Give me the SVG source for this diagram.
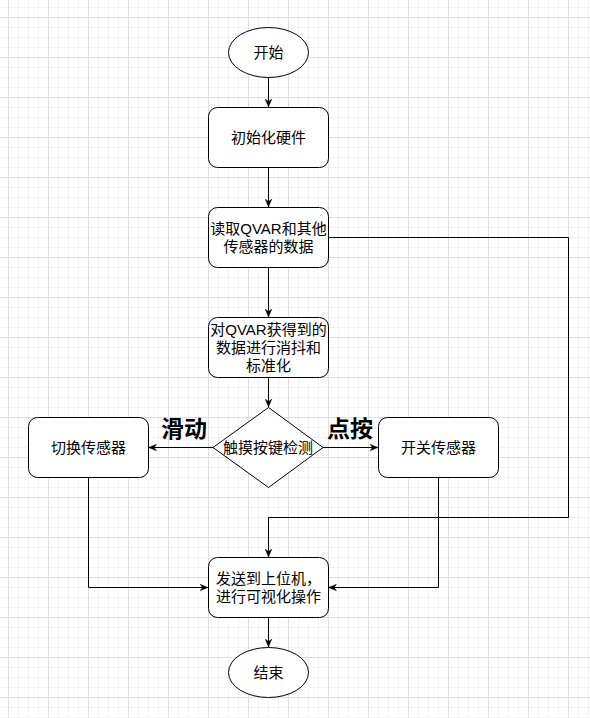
<svg xmlns="http://www.w3.org/2000/svg" width="590" height="718" viewBox="0 0 590 718">
<style>
.n{fill:#ffffff;stroke:#000000;stroke-width:1}
.t{font-family:"Liberation Sans","Noto Sans CJK SC",sans-serif;font-size:15px;fill:#000000;text-anchor:middle}
.b{font-family:"Liberation Sans","Noto Sans CJK SC",sans-serif;font-size:23px;font-weight:bold;fill:#000000;text-anchor:middle}
.e{fill:none;stroke:#000000;stroke-width:1;marker-end:url(#arr)}
</style>
<defs>
<pattern id="grid" patternUnits="userSpaceOnUse" x="8" y="17" width="40" height="40">
<rect x="10" y="0" width="1" height="40" fill="#f3f3f3"/>
<rect x="20" y="0" width="1" height="40" fill="#f3f3f3"/>
<rect x="30" y="0" width="1" height="40" fill="#f3f3f3"/>
<rect x="0" y="10" width="40" height="1" fill="#f3f3f3"/>
<rect x="0" y="20" width="40" height="1" fill="#f3f3f3"/>
<rect x="0" y="30" width="40" height="1" fill="#f3f3f3"/>
<rect x="0" y="0" width="1" height="40" fill="#dedede"/>
<rect x="0" y="0" width="40" height="1" fill="#dedede"/>
</pattern>
<marker id="arr" markerUnits="userSpaceOnUse" viewBox="0 0 10 10" refX="10" refY="5" markerWidth="8" markerHeight="8" orient="auto">
<path d="M0,0.8 L10,5 L0,9.2 L3,5 Z" fill="#000000" stroke="#000000" stroke-width="0.5"/>
</marker>
</defs>
<rect x="0" y="0" width="590" height="718" fill="#ffffff"/>
<rect x="0" y="0" width="590" height="718" fill="url(#grid)"/>

<g id="connectors">
<path class="e" d="M268.5,77.5 V107"/>
<path class="e" d="M268.5,167.5 V207"/>
<path class="e" d="M268.5,267.5 V317"/>
<path class="e" d="M268.5,377.5 V407"/>
<path class="e" d="M213,447.5 H148.5"/>
<path class="e" d="M323,447.5 H378"/>
<path class="e" d="M88.5,477.5 V587.5 H208"/>
<path class="e" d="M438.5,477.5 V587.5 H328.5"/>
<path class="e" d="M328.5,237.5 H568.5 V517.5 H268.5 V557"/>
<path class="e" d="M268.5,617.5 V647"/>
</g>

<g id="start">
<ellipse class="n" cx="268.5" cy="52.5" rx="40" ry="25"/>
<text class="t" x="268.5" y="58">开始</text>
</g>
<g id="init">
<rect class="n" x="208.5" y="107.5" width="120" height="60" rx="9"/>
<text class="t" x="268.5" y="143">初始化硬件</text>
</g>
<g id="read">
<rect class="n" x="208.5" y="207.5" width="120" height="60" rx="9"/>
<text class="t" x="268.5" y="234">读取QVAR和其他</text>
<text class="t" x="268.5" y="252">传感器的数据</text>
</g>
<g id="normalize">
<rect class="n" x="208.5" y="317.5" width="120" height="60" rx="9"/>
<text class="t" x="268.5" y="335">对QVAR获得到的</text>
<text class="t" x="268.5" y="353">数据进行消抖和</text>
<text class="t" x="268.5" y="371">标准化</text>
</g>
<g id="detect">
<path class="n" d="M268.5,407.5 L323,447.5 L268.5,487.5 L213,447.5 Z"/>
<text class="t" x="268" y="453">触摸按键检测</text>
</g>
<g id="switch">
<rect class="n" x="28.5" y="417.5" width="120" height="60" rx="9"/>
<text class="t" x="88.5" y="453">切换传感器</text>
</g>
<g id="onoff">
<rect class="n" x="378.5" y="417.5" width="120" height="60" rx="9"/>
<text class="t" x="438.5" y="453">开关传感器</text>
</g>
<g id="label-slide">
<text class="b" x="184" y="436.5">滑动</text>
</g>
<g id="label-tap">
<text class="b" x="350" y="436.5">点按</text>
</g>
<g id="send">
<rect class="n" x="208.5" y="557.5" width="120" height="60" rx="9"/>
<text class="t" x="268.5" y="584">发送到上位机，</text>
<text class="t" x="268.5" y="602">进行可视化操作</text>
</g>
<g id="end">
<ellipse class="n" cx="268.5" cy="672.5" rx="40" ry="25"/>
<text class="t" x="268.5" y="678">结束</text>
</g>
</svg>
